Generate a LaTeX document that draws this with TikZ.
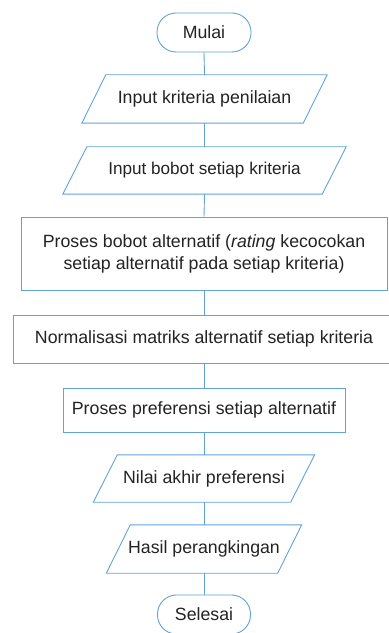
\documentclass[tikz,border=0pt]{standalone}
\usepackage{fontspec}
\setmainfont{Liberation Sans}
\usetikzlibrary{calc}
\definecolor{flowblue}{RGB}{98,162,218}
\definecolor{txt}{RGB}{35,35,35}
\tikzset{
  base/.style={inner sep=0pt, text=txt, font=\fontsize{17.8}{22}\selectfont, align=center},
  term/.style={base, draw=flowblue, line width=0.9bp, rectangle, rounded corners=19bp},
  procbox/.style={base, draw=flowblue, line width=0.9bp, rectangle},
  iobox/.style={base, rectangle},
  para/.style={draw=flowblue, line width=0.9bp, line join=miter},
  link/.style={draw=flowblue, line width=0.9bp}
}
\newcommand{\paraoutline}[2]{%
  \path[para] ($(#1.north west)+(#2,0)$) -- ($(#1.north east)+(#2,0)$)
    -- ($(#1.south east)-(#2,0)$) -- ($(#1.south west)-(#2,0)$) -- cycle;}
\begin{document}
\begin{tikzpicture}[x=1bp,y=-1bp]
\useasboundingbox (0,0) rectangle (388,633);
\fill[white] (0,0) rectangle (388,633);
\node[term, minimum width=94bp, minimum height=39bp] (start) at (204,32.5) {Mulai};
\node[iobox, minimum width=221bp, minimum height=48bp] (in1) at (204.5,99) {Input kriteria penilaian};
\paraoutline{in1}{12}
\node[iobox, minimum width=259bp, minimum height=47bp, font=\fontsize{17.2}{22}\selectfont] (in2) at (204.5,170.5) {Input bobot setiap kriteria};
\paraoutline{in2}{12}
\node[procbox, minimum width=366bp, minimum height=73bp] (p3) at (204,253.5) {Proses bobot alternatif (\textit{rating} kecocokan\\setiap alternatif pada setiap kriteria)};
\node[procbox, minimum width=382bp, minimum height=48bp] (p4) at (204,339) {Normalisasi matriks alternatif setiap kriteria};
\node[procbox, minimum width=282bp, minimum height=44bp] (p5) at (204,410) {Proses preferensi setiap alternatif};
\node[iobox, minimum width=197bp, minimum height=47bp] (out6) at (204,478.5) {Nilai akhir preferensi};
\paraoutline{out6}{12}
\node[iobox, minimum width=171bp, minimum height=48bp] (out7) at (204,549) {Hasil perangkingan};
\paraoutline{out7}{12}
\node[term, minimum width=93bp, minimum height=39bp] (end) at (204,614.5) {Selesai};
\draw[link] (start.south) -- (in1.north);
\draw[link] (in1.south) -- (in2.north);
\draw[link] (in2.south) -- (p3.north);
\draw[link] (p3.south) -- (p4.north);
\draw[link] (p4.south) -- (p5.north);
\draw[link] (p5.south) -- (out6.north);
\draw[link] (out6.south) -- (out7.north);
\draw[link] (out7.south) -- (end.north);
\end{tikzpicture}
\end{document}
